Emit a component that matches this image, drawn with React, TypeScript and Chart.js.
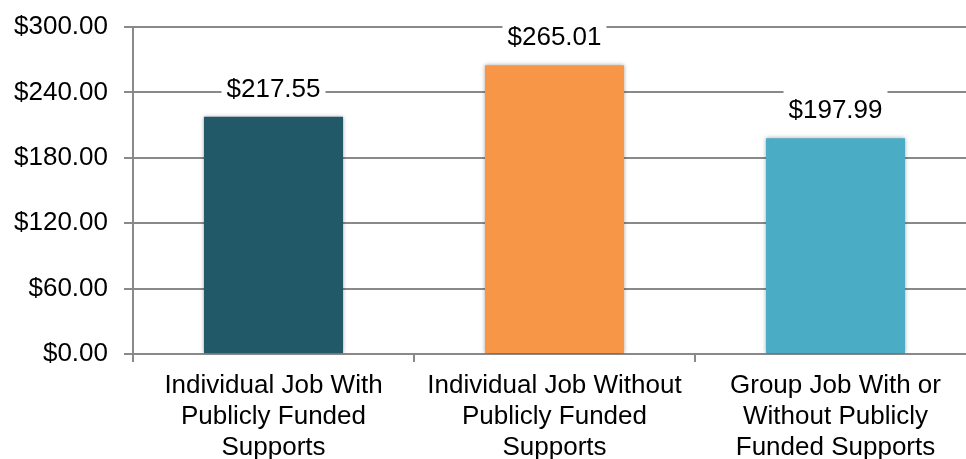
import React, { useEffect, useRef } from "react";
import { Chart, registerables } from "chart.js";

Chart.register(...registerables);

const categories: string[][] = [
  ["Individual Job With", "Publicly Funded", "Supports"],
  ["Individual Job Without", "Publicly Funded", "Supports"],
  ["Group Job With or", "Without Publicly", "Funded Supports"],
];
const values: number[] = [217.55, 265.01, 197.99];
const barColors: string[] = ["#215968", "#F79646", "#4BACC6"];
const yMin = 0;
const yMax = 300;
const yStep = 60;

const FONT = "'Liberation Sans', Arial, sans-serif";
const FONT_SIZE = 26;
const money = (v: number) => "$" + v.toFixed(2);

const shadowPlugin = {
  id: "barShadow",
  beforeDatasetsDraw(chart: any) {
    const ctx = chart.ctx;
    ctx.save();
    ctx.shadowColor = "rgba(0,0,0,0.35)";
    ctx.shadowBlur = 4;
    ctx.shadowOffsetX = 0;
    ctx.shadowOffsetY = 0;
  },
  afterDatasetsDraw(chart: any) {
    const ctx = chart.ctx;
    ctx.restore();
    const meta = chart.getDatasetMeta(0);
    ctx.save();
    ctx.font = `${FONT_SIZE}px ${FONT}`;
    ctx.textAlign = "center";
    ctx.textBaseline = "middle";
    meta.data.forEach((bar: any, i: number) => {
      const text = money(values[i]);
      const w = ctx.measureText(text).width;
      const cy = bar.y - 27;
      ctx.fillStyle = "#ffffff";
      ctx.fillRect(bar.x - w / 2 - 5, cy - 22, w + 10, 36);
      ctx.fillStyle = "#000000";
      ctx.fillText(text, bar.x, cy);
    });
    ctx.restore();
  },
};

export default function App() {
  const ref = useRef<HTMLCanvasElement | null>(null);
  useEffect(() => {
    if (!ref.current) return;
    const chart = new Chart(ref.current, {
      type: "bar",
      data: {
        labels: categories,
        datasets: [
          {
            data: values,
            backgroundColor: barColors,
            borderWidth: 0,
            barPercentage: 0.495,
            categoryPercentage: 1,
          },
        ],
      },
      options: {
        responsive: false,
        animation: false,
        layout: { padding: { top: 27, right: 4, left: 0, bottom: 0 } },
        plugins: {
          legend: { display: false },
          tooltip: { enabled: false },
        },
        scales: {
          x: {
            grid: {
              offset: true,
              drawOnChartArea: false,
              drawTicks: true,
              tickLength: 8,
              color: "#898989",
              lineWidth: 2,
            },
            border: { display: true, color: "#898989", width: 2 },
            ticks: {
              color: "#000000",
              font: { family: FONT, size: FONT_SIZE, lineHeight: 1.2 },
              padding: 8,
              maxRotation: 0,
              minRotation: 0,
              autoSkip: false,
            },
            afterFit(scale: any) {
              scale.height = 105;
              scale.paddingLeft = 0;
              scale.paddingRight = 0;
            },
          },
          y: {
            min: yMin,
            max: yMax,
            ticks: {
              stepSize: yStep,
              color: "#000000",
              font: { family: FONT, size: FONT_SIZE },
              padding: 16,
              callback: (v: any) => money(Number(v)),
            },
            grid: {
              color: "#898989",
              lineWidth: 2,
              drawTicks: true,
              tickLength: 9,
            },
            border: { display: true, color: "#898989", width: 2 },
            afterFit(scale: any) {
              scale.width = 133;
              scale.paddingTop = 0;
              scale.paddingBottom = 0;
            },
          },
        },
      },
      plugins: [shadowPlugin],
    });
    return () => chart.destroy();
  }, []);
  return (
    <div
      style={{
        position: "fixed",
        left: 0,
        top: 0,
        width: 966,
        height: 459,
        overflow: "hidden",
        background: "#ffffff",
      }}
    >
      <canvas ref={ref} width={980} height={459} style={{ display: "block" }} />
    </div>
  );
}
